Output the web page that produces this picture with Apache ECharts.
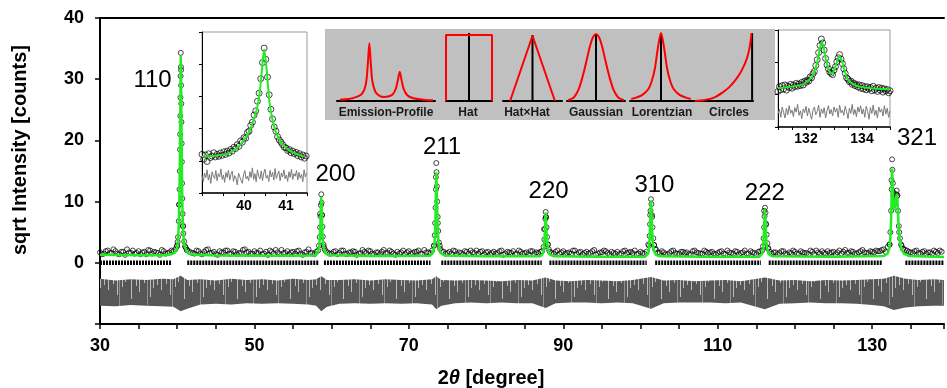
<!DOCTYPE html>
<html>
<head>
<meta charset="utf-8">
<script src="https://cdn.jsdelivr.net/npm/echarts/dist/echarts.min.js"></script>
<style>html,body{margin:0;padding:0;background:#fff}#xrd{width:947px;height:388px}</style>
</head>
<body>
<div id="xrd"></div>
<script>
var chart = echarts.init(document.getElementById('xrd'));

// observed sqrt intensity, two interleaved regular grids (step 0.5)
var obsStep = 0.5;
var obsStartA = 30;
var obsA = [
    1.7,1.5,2.0,1.6,1.9,1.4,1.8,2.2,1.6,1.5,1.9,1.7,1.4,2.0,1.8,1.6,2.1,1.5,1.7,1.9,
    2.7,31.5,2.7,1.9,1.6,2.0,1.5,1.8,2.2,1.6,1.4,1.9,1.7,2.0,1.5,1.8,1.6,2.1,1.7,1.5,
    1.9,1.6,1.4,1.8,2.0,1.5,1.7,2.1,1.6,1.4,1.8,1.9,1.5,1.7,2.2,1.6,1.8,8.0,2.6,1.7,
    1.5,1.9,1.6,2.0,1.4,1.7,1.8,1.5,2.1,1.6,1.9,1.4,1.7,1.8,1.6,2.0,1.5,1.8,1.7,1.4,
    1.9,1.6,1.8,1.5,2.1,1.7,2.0,14.0,2.8,1.8,1.6,1.5,1.9,1.7,1.4,1.8,2.0,1.6,1.5,1.9,
    1.7,1.4,1.8,1.6,2.0,1.5,1.7,1.9,1.5,1.8,1.6,1.4,1.9,1.7,1.8,5.5,3.0,1.6,1.8,1.5,
    1.9,1.6,1.5,2.0,1.7,1.4,1.8,1.6,2.1,1.5,1.7,1.9,1.4,1.6,1.8,1.5,2.0,1.7,1.6,1.4,
    1.8,1.5,3.0,7.5,2.2,1.6,1.7,1.4,1.9,1.6,1.5,1.8,1.7,1.4,2.0,1.6,1.5,1.8,1.7,1.5,
    1.6,1.9,1.4,1.7,1.5,1.8,1.6,2.0,1.5,1.7,1.4,1.9,8.5,2.3,1.5,1.7,1.6,1.9,1.4,1.6,
    1.8,1.5,1.7,1.6,2.0,1.4,1.7,1.9,1.5,1.6,1.8,1.7,1.5,2.1,1.6,1.8,1.5,1.9,1.7,1.6,
    1.8,2.0,1.9,2.2,2.6,13.5,10.5,5.0,2.3,2.0,1.7,1.9,1.6,1.8,1.5,1.7,2.0,1.6,1.8
];
var obsStartB = 30.25;
var obsB = [
    1.4,1.9,1.6,2.2,1.5,1.8,1.3,1.7,2.0,1.6,1.4,1.8,2.1,1.5,1.7,1.3,1.9,1.6,2.0,2.2,
    9.5,6.0,2.1,1.7,1.5,1.9,1.4,2.1,1.6,1.8,1.3,1.7,2.0,1.5,1.9,1.4,1.6,2.2,1.8,1.5,
    1.6,2.0,1.5,1.3,1.8,2.1,1.4,1.6,1.9,1.7,1.5,2.0,1.3,1.8,1.6,1.4,2.0,7.8,1.9,1.5,
    1.8,1.4,2.0,1.5,1.7,1.9,1.3,1.6,1.8,2.0,1.5,1.7,1.4,2.1,1.6,1.8,1.3,1.5,2.0,1.7,
    1.5,1.8,2.0,1.4,1.7,1.6,2.8,6.5,1.9,1.5,1.8,2.0,1.4,1.6,1.9,1.5,1.7,2.0,1.8,1.4,
    1.8,1.6,1.5,1.9,1.3,1.8,1.6,1.4,2.0,1.5,1.7,1.9,1.5,1.6,1.9,7.5,1.8,1.5,2.0,1.7,
    1.5,1.7,2.0,1.4,1.8,1.6,1.5,1.9,1.3,1.7,2.0,1.6,1.8,1.5,1.4,1.9,1.6,1.8,2.0,1.5,
    1.6,1.8,7.8,2.9,1.7,1.9,1.4,1.6,2.0,1.5,1.8,1.6,1.4,1.9,1.7,1.5,2.0,1.6,1.8,1.4,
    1.8,1.5,2.0,1.6,1.9,1.4,1.7,1.5,1.9,1.6,1.8,2.0,6.2,1.8,1.7,1.4,1.9,1.5,1.7,2.0,
    1.5,1.9,1.6,1.4,1.8,2.0,1.5,1.6,1.9,1.7,1.4,2.0,1.8,1.6,1.9,1.5,1.7,2.1,1.6,1.9,
    1.7,1.9,2.1,1.8,3.0,11.5,11.0,3.0,2.1,1.8,1.6,2.0,1.5,1.9,1.7,1.5,1.8,2.0
];

// extra observed points on the peak flanks
var obsPeaks = [
    [39.95,2.8],[40.05,3.4],[40.1,4.2],[40.2,6.8],[40.25,9.5],[40.3,12],[40.33,15],[40.36,18.5],[40.38,21],
    [40.4,24],[40.42,27],[40.44,30.5],[40.46,34.3],[40.48,32],[40.5,29],[40.53,26],[40.55,23],[40.58,19.5],
    [40.6,16.5],[40.63,13],[40.66,10.5],[40.7,8],[40.75,6],[40.8,4.8],[40.9,3.5],[41.1,2.5],[41.25,2.1],
    [58.35,2.8],[58.45,4.2],[58.5,5.8],[58.55,7.6],[58.6,9.4],[58.65,11.2],[58.7,9.8],[58.75,7.8],[58.8,5.9],
    [58.85,4.3],[58.95,3.0],[59.1,2.2],
    [73.25,2.8],[73.35,4.5],[73.4,6.5],[73.45,9],[73.5,12],[73.55,16.3],[73.58,14.8],[73.63,12.5],[73.67,10],
    [73.73,7.5],[73.8,5.2],[73.9,3.3],[74.05,2.3],
    [87.45,2.6],[87.55,3.8],[87.62,5.5],[87.67,7.2],[87.72,8.3],[87.77,7.4],[87.83,5.8],[87.9,4.2],[88.0,3.0],[88.12,2.2],
    [101.1,2.8],[101.17,4.4],[101.23,6.3],[101.29,8.5],[101.35,10.4],[101.41,9.6],[101.47,7.8],[101.55,5.8],
    [101.65,4.0],[101.77,2.9],[101.9,2.2],
    [115.85,2.7],[115.93,4.0],[116.0,5.8],[116.06,7.6],[116.12,9.0],[116.18,8.2],[116.25,6.4],[116.33,4.6],
    [116.43,3.2],[116.55,2.4],
    [132.25,3],[132.35,5],[132.45,8.5],[132.52,12],[132.58,16.9],[132.62,15.2],[132.68,13],[132.75,11],[132.82,10],
    [132.9,9.6],[133.0,10.2],[133.1,11.2],[133.18,11.8],[133.25,11],[133.35,8.5],[133.45,6],[133.6,4],[133.8,2.8],[134.0,2.3]
];

// calculated profile (green)
var fitPts = [
    [30,1.3],[35,1.25],[38.5,1.25],[39.3,1.4],[39.7,1.65],[39.95,2.3],[40.1,3.6],[40.2,6.2],[40.28,10.5],[40.35,17],
    [40.41,26],[40.46,33.8],[40.52,27.5],[40.58,18.5],[40.65,10.5],[40.74,5.8],[40.9,3.1],[41.15,2],[41.5,1.55],[42.2,1.3],
    [45,1.2],[50,1.15],[55,1.15],[57.9,1.2],[58.25,1.8],[58.4,2.8],[58.5,4.8],[58.57,7.5],[58.65,10.8],[58.73,7.8],
    [58.81,4.6],[58.93,2.6],[59.15,1.6],[59.6,1.25],[65,1.1],[72.7,1.15],[73.1,1.6],[73.27,2.6],[73.38,4.5],[73.47,8.5],
    [73.55,14.8],[73.61,12],[73.67,8.5],[73.75,5],[73.87,2.8],[74.1,1.6],[74.6,1.2],[80,1.05],[87,1.05],[87.35,1.5],
    [87.5,2.6],[87.6,4.8],[87.7,8.2],[87.77,6.5],[87.87,3.8],[88.0,2.1],[88.25,1.35],[88.8,1.05],[95,1.0],[100.6,1.0],
    [101.0,1.5],[101.12,2.6],[101.2,4.6],[101.27,7.5],[101.35,10.2],[101.41,8.6],[101.49,5.6],[101.59,3.2],[101.75,1.9],
    [102,1.3],[102.5,1.05],[108,1.0],[115.4,1.0],[115.75,1.5],[115.88,2.6],[115.97,4.8],[116.1,8.8],[116.18,7],
    [116.26,4.2],[116.38,2.4],[116.6,1.4],[117.1,1.05],[125,1.0],[131.5,1.1],[132.0,1.5],[132.25,2.5],[132.4,5],
    [132.5,9.5],[132.58,15.4],[132.65,12.5],[132.74,9.5],[132.84,8.6],[132.95,9.2],[133.08,10.5],[133.18,11.3],
    [133.28,9.8],[133.4,6.5],[133.55,3.8],[133.75,2.3],[134.1,1.5],[134.8,1.1],[139.3,0.95]
];

// difference curve envelope
var diffX = [30,32,34,36,38,39.5,40.45,41.3,43,45,47,49,51,53,55,57,58,58.65,59.4,61,63,65,67,69,71,73,73.55,74.2,
    76,78,80,82,84,86,87.7,89,91,93,95,97,99,101.35,103,105,107,109,111,113,116.1,118,120,122,124,126,128,130,
    131.5,132.8,134.3,136,138,139.3];
var diffLow = [-7.0,-7.1,-6.9,-7.0,-7.1,-7.2,-7.9,-7.5,-6.8,-6.7,-6.8,-6.6,-6.7,-6.6,-6.7,-6.8,-7.0,-7.9,-7.2,
    -6.7,-6.6,-6.7,-6.6,-6.7,-6.6,-6.8,-7.6,-7.0,-6.6,-6.5,-6.6,-6.5,-6.6,-6.6,-7.4,-6.6,-6.5,-6.5,-6.6,-6.5,-6.6,
    -7.5,-6.6,-6.5,-6.5,-6.5,-6.6,-6.5,-7.6,-6.7,-6.6,-6.5,-6.6,-6.6,-6.7,-6.9,-7.1,-7.7,-7.3,-7.1,-7.0,-7.0];
var diffHigh = [-2.6,-2.9,-2.7,-2.8,-2.6,-2.7,-2.1,-2.8,-2.7,-2.9,-2.6,-2.8,-2.7,-2.9,-2.6,-2.8,-2.7,-2.2,-2.8,
    -2.8,-2.7,-2.9,-2.7,-2.8,-2.9,-2.7,-2.2,-2.8,-2.9,-2.8,-2.9,-3.0,-2.8,-2.9,-2.4,-2.9,-3.0,-2.8,-2.9,-3.0,-2.8,
    -2.3,-2.9,-2.8,-3.0,-2.9,-2.8,-3.0,-2.4,-2.9,-2.8,-3.0,-2.8,-2.9,-2.8,-2.7,-2.6,-2.1,-2.6,-2.8,-2.7,-2.8];

// reflection marker row (ranges of 2theta)
var reflSegs = [[30,39.2],[41.3,58.3],[59.0,72.8],[74.2,87.2],[88.2,100.8],[101.9,115.6],[116.6,131.3],[134.3,139.3]];

// hkl labels
var hklNames = ['110','200','211','220','310','222','321'];
var hklX = [36.8,60.5,74.3,88.1,101.8,116.1,135.8];
var hklY = [29.8,14.4,18.8,11.6,12.6,11.4,20.4];

// inset 110: observed (39..41.48 step 0.04), fit, difference (step 0.03)
var inLObs = [1.20,1.05,1.18,0.98,1.22,1.10,1.15,1.25,1.12,1.20,1.14,1.24,1.17,1.28,1.20,1.30,1.24,1.35,1.30,1.42,
    1.38,1.50,1.45,1.62,1.58,1.72,1.70,1.88,1.92,2.10,2.20,2.42,2.55,2.85,3.10,3.55,4.05,4.50,4.15,3.60,
    3.05,2.60,2.30,2.05,1.92,1.75,1.65,1.58,1.50,1.42,1.40,1.32,1.35,1.25,1.30,1.22,1.26,1.16,1.22,1.12,
    1.18,1.08,1.15];
var inLFit = [[39,1.13],[39.3,1.16],[39.63,1.23],[39.86,1.44],[40.0,1.65],[40.14,1.96],[40.3,2.58],[40.38,3.2],
    [40.42,3.72],[40.48,4.46],[40.54,3.82],[40.58,3.2],[40.62,2.68],[40.74,1.96],[40.9,1.54],[41.14,1.28],[41.45,1.13]];
var inLDiff = [0.55,0.35,0.62,0.48,0.72,0.40,0.58,0.30,0.66,0.52,0.45,0.70,0.38,0.60,0.50,0.75,0.42,0.56,0.33,0.64,
    0.48,0.71,0.40,0.58,0.68,0.36,0.54,0.46,0.25,0.62,0.50,0.40,0.30,0.58,0.70,0.44,0.52,0.38,0.66,0.48,
    0.78,0.42,0.60,0.35,0.72,0.52,0.44,0.68,0.38,0.62,0.74,0.46,0.55,0.36,0.70,0.50,0.64,0.40,0.76,0.45,
    0.58,0.68,0.38,0.62,0.50,0.72,0.44,0.56,0.36,0.66,0.48,0.74,0.42,0.60,0.52,0.70,0.40,0.64,0.46,0.58,
    0.35,0.72,0.50,0.62];

// inset 321: observed and difference (131..135 step 0.05), fit
var inRObs = [1.10,1.25,1.15,1.28,1.18,1.30,1.14,1.26,1.22,1.32,1.20,1.30,1.25,1.35,1.26,1.33,1.28,1.38,1.30,1.42,
    1.38,1.45,1.42,1.55,1.52,1.65,1.72,1.90,2.08,2.30,2.52,2.72,2.60,2.38,2.12,1.92,1.80,1.70,1.66,1.62,
    1.76,1.86,2.02,2.14,2.24,2.10,1.96,1.80,1.66,1.52,1.48,1.40,1.42,1.32,1.36,1.28,1.32,1.24,1.30,1.20,
    1.28,1.18,1.25,1.15,1.24,1.18,1.22,1.12,1.26,1.15,1.20,1.10,1.22,1.14,1.20,1.08,1.18,1.12,1.16,1.06,1.12];
var inRFit = [[131,1.2],[131.5,1.25],[131.9,1.32],[132.1,1.45],[132.25,1.61],[132.35,1.85],[132.43,2.13],[132.5,2.45],
    [132.57,2.64],[132.63,2.45],[132.7,2.13],[132.79,1.82],[132.86,1.68],[132.93,1.66],[133.0,1.75],[133.07,1.92],
    [133.2,2.18],[133.3,2.0],[133.35,1.82],[133.5,1.46],[133.7,1.32],[133.9,1.25],[134.3,1.2],[135,1.17]];
var inRDiff = [0.40,0.55,0.30,0.62,0.45,0.28,0.58,0.38,0.66,0.42,0.52,0.32,0.60,0.46,0.70,0.36,0.50,0.26,0.56,0.44,
    0.64,0.34,0.58,0.40,0.24,0.52,0.62,0.38,0.48,0.68,0.30,0.56,0.42,0.60,0.28,0.50,0.66,0.40,0.54,0.34,
    0.62,0.46,0.58,0.30,0.68,0.44,0.52,0.36,0.64,0.48,0.26,0.58,0.42,0.70,0.38,0.54,0.32,0.62,0.46,0.66,
    0.40,0.56,0.30,0.64,0.48,0.24,0.60,0.42,0.68,0.36,0.52,0.28,0.62,0.46,0.56,0.34,0.66,0.40,0.58,0.30,0.50];

// profile shapes (normalised 0..1)
var profNames = ['Emission-Profile','Hat','Hat×Hat','Gaussian','Lorentzian','Circles'];
var profCurves = [
    [[0.03,0.02],[0.12,0.03],[0.2,0.06],[0.25,0.1],[0.28,0.17],[0.3,0.3],[0.315,0.55],[0.33,0.85],[0.345,0.55],
     [0.36,0.3],[0.39,0.14],[0.43,0.08],[0.48,0.06],[0.53,0.07],[0.57,0.1],[0.6,0.18],[0.62,0.3],[0.64,0.43],
     [0.66,0.3],[0.68,0.18],[0.72,0.08],[0.78,0.04],[0.88,0.02],[0.98,0.01]],
    [[0,0],[0,0.97],[1,0.97],[1,0]],
    [[0.12,0],[0.5,0.96],[0.88,0]],
    [[0.02,0.01],[0.1,0.04],[0.15,0.09],[0.2,0.17],[0.25,0.3],[0.3,0.46],[0.35,0.64],[0.4,0.82],[0.45,0.94],
     [0.5,0.985],[0.55,0.94],[0.6,0.82],[0.65,0.64],[0.7,0.46],[0.75,0.3],[0.8,0.17],[0.85,0.09],[0.9,0.04],[0.98,0.01]],
    [[0.02,0.03],[0.1,0.05],[0.2,0.09],[0.3,0.18],[0.35,0.29],[0.4,0.47],[0.45,0.78],[0.5,1.0],[0.55,0.78],
     [0.6,0.47],[0.65,0.29],[0.7,0.18],[0.8,0.09],[0.9,0.05],[0.98,0.03]],
    [[0.03,0],[0.2,0.015],[0.35,0.05],[0.5,0.13],[0.6,0.2],[0.7,0.3],[0.78,0.4],[0.85,0.52],[0.9,0.63],
     [0.94,0.77],[0.96,0.88],[0.975,1.0]]
];
var profStick = [null, [0.5,1.0], [0.5,0.97], [0.5,0.985], [0.5,1.0], [0.985,1.0]];

// layout of the profile strip
var profLeft = [337,446,503,567,630,693];
var profWidth = [98,46,59,58,62,60];
var profLabelX = [386,468,527,596,662,729];

var FONT = 'Liberation Sans, Arial, sans-serif';

// streak texture for the difference band (tile 53px wide)
var streakX = [2,7,11,16,19,25,30,33,38,44,47,51];
var streakEnd = [290,284,295,287,282,299,286,292,283,297,288,285];

function makeStreakTile() {
    var c = document.createElement('canvas');
    c.width = 53; c.height = 388;
    var g = c.getContext('2d');
    g.fillStyle = '#575757';
    g.fillRect(0, 0, 53, 388);
    g.fillStyle = 'rgba(255,255,255,0.6)';
    streakX.forEach(function (x, i) { g.fillRect(x, 270, 1, streakEnd[i] - 270); });
    g.fillStyle = 'rgba(255,255,255,0.35)';
    g.fillRect(13, 270, 1, 38);
    g.fillRect(41, 270, 1, 35);
    return c;
}
var streakTile = makeStreakTile();

function regular(start, step, ys) {
    return ys.map(function (y, i) { return [+(start + i * step).toFixed(3), y]; });
}

function reflData() {
    var out = [];
    reflSegs.forEach(function (s) {
        out.push([s[0], 0], [s[1], 0], [s[1] + 0.05, null]);
    });
    return out;
}

// band between diffHigh and diffLow, drawn as one polygon
function renderDiffBand(params, api) {
    if (params.dataIndex !== 0) return;
    var pts = [];
    for (var i = 0; i < diffX.length; i++) pts.push(api.coord([diffX[i], diffHigh[i]]));
    for (var j = diffX.length - 1; j >= 0; j--) pts.push(api.coord([diffX[j], diffLow[j]]));
    return {
        type: 'polygon',
        shape: {points: pts},
        style: {fill: {image: streakTile, repeat: 'repeat'}}
    };
}

var grids = [
    {left: 100, right: 0, top: 18, bottom: 64},
    {left: 202, top: 32, width: 105, height: 161, show: true, backgroundColor: '#fff', borderColor: '#9a9a9a', borderWidth: 1},
    {left: 778, top: 30, width: 112, height: 97, show: true, backgroundColor: '#fff', borderColor: '#9a9a9a', borderWidth: 1}
];
var xAxes = [
    {
        gridIndex: 0, type: 'value', min: 30, max: 139.3, interval: 5,
        axisLine: {onZero: false, lineStyle: {color: '#000', width: 2}},
        axisTick: {length: 5, lineStyle: {color: '#000', width: 1.5}},
        axisLabel: {
            margin: 13, color: '#000', fontSize: 18, fontWeight: 'bold', fontFamily: FONT,
            formatter: function (v) { return Math.abs((v - 30) % 20) < 1e-6 ? String(v) : ''; }
        },
        splitLine: {show: false}
    },
    {
        gridIndex: 0, type: 'value', position: 'top', min: 30, max: 139.3,
        axisLine: {onZero: false, lineStyle: {color: '#000', width: 2}},
        axisTick: {show: false}, axisLabel: {show: false}, splitLine: {show: false}
    },
    {
        gridIndex: 1, type: 'value', min: 39, max: 41.5, interval: 0.5,
        axisLine: {onZero: false, lineStyle: {color: '#000', width: 1.5}},
        axisTick: {length: 3, lineStyle: {color: '#000'}},
        axisLabel: {
            margin: 6, color: '#000', fontSize: 14, fontWeight: 'bold', fontFamily: FONT,
            formatter: function (v) { return v % 1 === 0 && v > 39 ? String(v) : ''; }
        },
        splitLine: {show: false}
    },
    {
        gridIndex: 2, type: 'value', min: 131, max: 135, interval: 0.5,
        axisLine: {onZero: false, lineStyle: {color: '#000', width: 1.5}},
        axisTick: {length: 3, lineStyle: {color: '#000'}},
        axisLabel: {
            margin: 5, color: '#000', fontSize: 14, fontWeight: 'bold', fontFamily: FONT,
            formatter: function (v) { return (v === 132 || v === 134) ? String(v) : ''; }
        },
        splitLine: {show: false}
    }
];
var yAxes = [
    {
        gridIndex: 0, type: 'value', min: -10, max: 40, interval: 10,
        axisLine: {show: true, onZero: false, lineStyle: {color: '#000', width: 2}},
        axisTick: {show: true, length: 5, lineStyle: {color: '#000', width: 1.5}},
        axisLabel: {
            margin: 16, color: '#000', fontSize: 18, fontWeight: 'bold', fontFamily: FONT,
            formatter: function (v) { return v < 0 ? '' : String(v); }
        },
        splitLine: {show: false}
    },
    {
        gridIndex: 1, type: 'value', min: 0, max: 5, interval: 1,
        axisLine: {show: true, onZero: false, lineStyle: {color: '#000', width: 1}},
        axisTick: {show: true, length: 3, lineStyle: {color: '#000'}},
        axisLabel: {show: false}, splitLine: {show: false}
    },
    {
        gridIndex: 2, type: 'value', min: 0, max: 3, interval: 1,
        axisLine: {show: true, onZero: false, lineStyle: {color: '#000', width: 1}},
        axisTick: {show: true, length: 3, lineStyle: {color: '#000'}},
        axisLabel: {show: false}, splitLine: {show: false}
    }
];

var hollow = {color: 'rgba(0,0,0,0)', borderColor: '#000', borderWidth: 0.9};

var series = [
    {
        type: 'custom', xAxisIndex: 0, yAxisIndex: 0, silent: true, z: 2,
        data: diffX.map(function (x, i) { return [x, diffLow[i], diffHigh[i]]; }),
        encode: {x: 0, y: [1, 2]},
        renderItem: renderDiffBand
    },
    {
        type: 'line', xAxisIndex: 0, yAxisIndex: 0, symbol: 'none', data: reflData(), connectNulls: false,
        lineStyle: {color: '#000', width: 4.5, type: [2, 1]}, silent: true, z: 3
    },
    {type: 'scatter', xAxisIndex: 0, yAxisIndex: 0, symbolSize: 5, itemStyle: hollow, data: regular(obsStartA, obsStep, obsA), z: 3, silent: true},
    {type: 'scatter', xAxisIndex: 0, yAxisIndex: 0, symbolSize: 5, itemStyle: hollow, data: regular(obsStartB, obsStep, obsB), z: 3, silent: true},
    {type: 'scatter', xAxisIndex: 0, yAxisIndex: 0, symbolSize: 5, itemStyle: hollow, data: obsPeaks, z: 3, silent: true},
    {type: 'line', xAxisIndex: 0, yAxisIndex: 0, symbol: 'none', data: fitPts, lineStyle: {color: '#22ec22', width: 2.5}, z: 5, silent: true},
    {
        type: 'scatter', xAxisIndex: 0, yAxisIndex: 0, symbolSize: 0, itemStyle: {color: '#000'}, silent: true, z: 6,
        data: hklNames.map(function (n, i) { return {name: n, value: [hklX[i], hklY[i]]}; }),
        label: {
            show: true, position: 'inside', formatter: '{b}', color: '#000', fontSize: 24, fontFamily: FONT,
            textBorderWidth: 0, opacity: 1
        }
    },
    // inset 110
    {type: 'line', xAxisIndex: 2, yAxisIndex: 1, symbol: 'none', data: regular(39, 0.03, inLDiff), lineStyle: {color: '#7a7a7a', width: 1}, silent: true},
    {type: 'scatter', xAxisIndex: 2, yAxisIndex: 1, symbolSize: 6, itemStyle: hollow, data: regular(39, 0.04, inLObs), silent: true},
    {type: 'line', xAxisIndex: 2, yAxisIndex: 1, symbol: 'none', smooth: 0.3, data: inLFit, lineStyle: {color: '#22ec22', width: 2}, z: 5, silent: true},
    // inset 321
    {type: 'line', xAxisIndex: 3, yAxisIndex: 2, symbol: 'none', data: regular(131, 0.05, inRDiff), lineStyle: {color: '#7a7a7a', width: 1}, silent: true},
    {type: 'scatter', xAxisIndex: 3, yAxisIndex: 2, symbolSize: 6, itemStyle: hollow, data: regular(131, 0.05, inRObs), silent: true},
    {type: 'line', xAxisIndex: 3, yAxisIndex: 2, symbol: 'none', smooth: 0.3, data: inRFit, lineStyle: {color: '#22ec22', width: 2}, z: 5, silent: true}
];

var graphics = [
    {type: 'rect', z: -1, shape: {x: 325, y: 29, width: 450, height: 91}, style: {fill: '#c0c0c0'}, silent: true},
    {
        type: 'text', x: 491, y: 378, z: 10, silent: true,
        style: {
            text: '{n|2}{t|θ}{n| [degree]}', align: 'center', textAlign: 'center', verticalAlign: 'middle', textVerticalAlign: 'middle',
            rich: {
                n: {fontSize: 20, fontWeight: 'bold', fontFamily: FONT, fill: '#000', color: '#000'},
                t: {fontSize: 20, fontWeight: 'bold', fontStyle: 'italic', fontFamily: FONT, fill: '#000', color: '#000'}
            }
        }
    },
    {
        type: 'text', x: 20, y: 150, rotation: Math.PI / 2, z: 10, silent: true,
        style: {
            text: 'sqrt Intensity [counts]', align: 'center', textAlign: 'center', verticalAlign: 'middle', textVerticalAlign: 'middle',
            font: 'bold 20px ' + FONT, fill: '#000'
        }
    }
];

profNames.forEach(function (name, k) {
    grids.push({left: profLeft[k], width: profWidth[k], top: 33, height: 68});
    xAxes.push({
        gridIndex: 3 + k, type: 'value', min: 0, max: 1,
        axisLine: {onZero: false, lineStyle: {color: '#000', width: 2}},
        axisTick: {show: false}, axisLabel: {show: false}, splitLine: {show: false}
    });
    yAxes.push({gridIndex: 3 + k, type: 'value', min: 0, max: 1, show: false, splitLine: {show: false}});
    if (profStick[k]) {
        series.push({
            type: 'line', xAxisIndex: 4 + k, yAxisIndex: 3 + k, symbol: 'none', clip: false, silent: true, z: 4,
            data: [[profStick[k][0], 0], [profStick[k][0], profStick[k][1]]],
            lineStyle: {color: '#000', width: 2}
        });
    }
    series.push({
        type: 'line', xAxisIndex: 4 + k, yAxisIndex: 3 + k, symbol: 'none', clip: false, silent: true, z: 5,
        smooth: (k === 1 || k === 2) ? false : 0.3,
        data: profCurves[k], lineStyle: {color: '#ff0000', width: 2}
    });
    graphics.push({
        type: 'text', x: profLabelX[k], y: 113, z: 10, silent: true,
        style: {
            text: name, align: 'center', textAlign: 'center', verticalAlign: 'middle', textVerticalAlign: 'middle',
            font: 'bold 12px ' + FONT, fill: '#1a1a1a'
        }
    });
});

chart.setOption({
    animation: false,
    backgroundColor: '#fff',
    grid: grids,
    xAxis: xAxes,
    yAxis: yAxes,
    series: series,
    graphic: graphics
});
</script>
</body>
</html>
